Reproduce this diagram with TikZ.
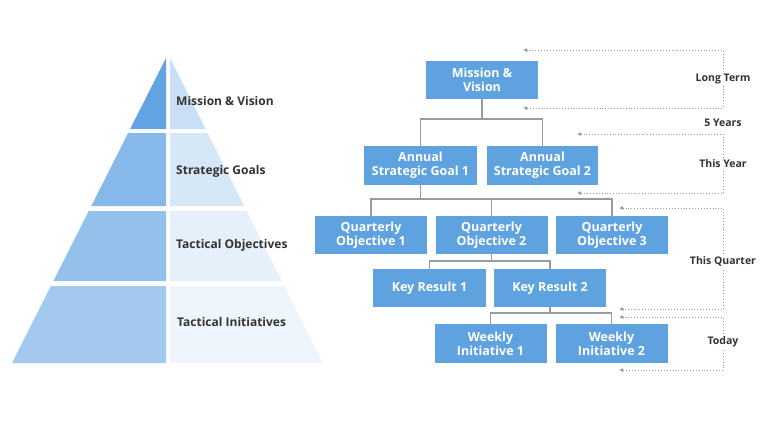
\documentclass[tikz,border=0pt]{standalone}
\usepackage{fontspec}
\setmainfont{Open Sans}
\usetikzlibrary{arrows.meta}
\definecolor{boxblue}{HTML}{5FA2E0}
\definecolor{pA}{HTML}{62A3E3}
\definecolor{pAr}{HTML}{C9DFF5}
\definecolor{pB}{HTML}{86B9EA}
\definecolor{pBr}{HTML}{D6E7F7}
\definecolor{pC}{HTML}{94C1EC}
\definecolor{pCr}{HTML}{E6F0FA}
\definecolor{pD}{HTML}{A3C9EF}
\definecolor{pDr}{HTML}{EFF5FC}
\definecolor{txt}{HTML}{333333}
\definecolor{lin}{HTML}{9A9A9A}
\tikzset{
  tbox/.style={fill=boxblue, text=white, font=\fontsize{12.5}{14}\selectfont\bfseries, align=center, minimum width=112pt, minimum height=38pt, inner sep=0pt},
  plabel/.style={anchor=west, text=txt, font=\fontsize{12}{14}\selectfont\bfseries, inner sep=0pt},
  tlabel/.style={text=txt, font=\fontsize{10.5}{12}\selectfont\bfseries, fill=white, inner sep=2pt},
  conn/.style={draw=lin, line width=1.2pt},
  dotarrow/.style={draw=lin, line width=0.9pt, dotted, {Latex[length=4pt,width=4pt]}-{Latex[length=4pt,width=4pt]}}
}
\begin{document}
\begin{tikzpicture}[x=1pt,y=-1pt]
\useasboundingbox (0,0) rectangle (768,432);
% pyramid
\fill[pA] (166,58) -- (166,129) -- (130.15,129) -- cycle;
\fill[pAr] (170,58) -- (170,129) -- (205.6,129) -- cycle;
\fill[pB] (128.1,133) -- (166,133) -- (166,206) -- (91.3,206) -- cycle;
\fill[pBr] (170,133) -- (207.6,133) -- (244.2,206) -- (170,206) -- cycle;
\fill[pC] (88.75,211) -- (166,211) -- (166,281) -- (53.4,281) -- cycle;
\fill[pCr] (170,211) -- (246.7,211) -- (281.9,281) -- (170,281) -- cycle;
\fill[pD] (50.9,286) -- (166,286) -- (166,363) -- (12,363) -- cycle;
\fill[pDr] (170,286) -- (284.4,286) -- (323,363) -- (170,363) -- cycle;
\node[plabel] (pl1) at (176,101) {Mission \& Vision};
\node[plabel] (pl2) at (176,171) {Strategic Goals};
\node[plabel] (pl3) at (176,245) {Tactical Objectives};
\node[plabel] (pl4) at (177,322) {Tactical Initiatives};
% tree
\node[tbox] (mv) at (482,80) {Mission \&\\Vision};
\node[tbox, minimum width=113pt, minimum height=39pt] (sg1) at (420.5,165.5) {Annual\\Strategic Goal 1};
\node[tbox, minimum width=111pt, minimum height=39pt] (sg2) at (542.5,165.5) {Annual\\Strategic Goal 2};
\node[tbox] (qo1) at (371,235) {Quarterly\\Objective 1};
\node[tbox] (qo2) at (491.5,235) {Quarterly\\Objective 2};
\node[tbox] (qo3) at (612,235) {Quarterly\\Objective 3};
\node[tbox, minimum width=113pt] (kr1) at (429.5,288) {Key Result 1};
\node[tbox] (kr2) at (550,288) {Key Result 2};
\node[tbox, minimum height=39pt] (wi1) at (490.5,343.5) {Weekly\\Initiative 1};
\node[tbox, minimum height=39pt] (wi2) at (611.5,343.5) {Weekly\\Initiative 2};
\coordinate (j1) at (482,119);
\coordinate (j2) at (420.5,199);
\coordinate (j3) at (491.5,261);
\coordinate (j4) at (550,313);
\draw[conn] (mv.south) -- (j1);
\draw[conn] (j1) -| (sg1.north);
\draw[conn] (j1) -| (sg2.north);
\draw[conn] (sg1.south) -- (j2);
\draw[conn] (j2) -| (qo1.north);
\draw[conn] (j2) -| (qo2.north);
\draw[conn] (j2) -| (qo3.north);
\draw[conn] (qo2.south) -- (j3);
\draw[conn] (j3) -| (kr1.north);
\draw[conn] (j3) -| (kr2.north);
\draw[conn] (kr2.south) -- (j4);
\draw[conn] (j4) -| (wi1.north);
\draw[conn] (j4) -| (wi2.north);
% time brackets
\coordinate (a1) at (523,50);
\coordinate (a2) at (523,108);
\coordinate (b1) at (577,134);
\coordinate (b2) at (577,193);
\coordinate (c1) at (619,208);
\coordinate (c2) at (619,309);
\coordinate (d1) at (619,317);
\coordinate (d2) at (619,370);
\draw[dotarrow] (a1) -- (723,50) -- (723,108) -- (a2);
\draw[dotarrow] (b1) -- (723,134) -- (723,193) -- (b2);
\draw[dotarrow] (c1) -- (723,208) -- (723,309) -- (c2);
\draw[dotarrow] (d1) -- (723,317) -- (723,370) -- (d2);
\node[tlabel] (lt) at (723,79) {Long Term};
\node[tlabel] (fy) at (723,123) {5 Years};
\node[tlabel] (ty) at (723,164) {This Year};
\node[tlabel] (tq) at (723,261) {This Quarter};
\node[tlabel] (td) at (723,342) {Today};
\end{tikzpicture}
\end{document}
